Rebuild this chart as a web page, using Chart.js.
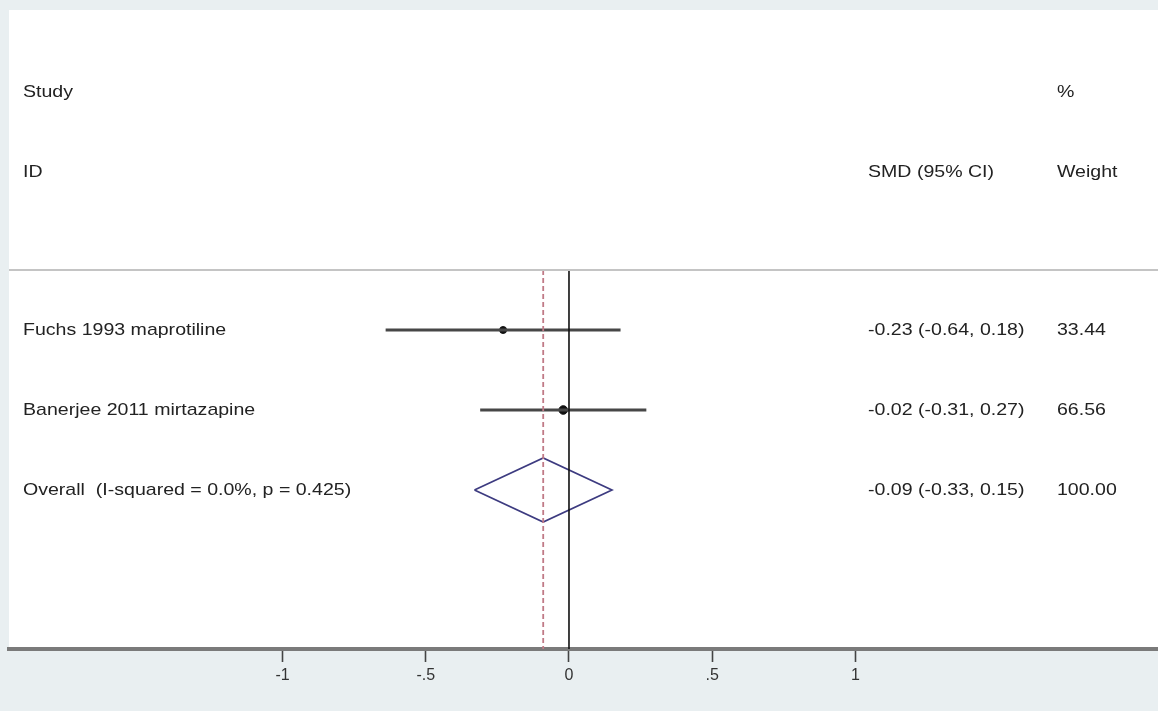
<!DOCTYPE html>
<html>
<head>
<meta charset="utf-8">
<title>Forest plot: SMD (95% CI)</title>
<script src="https://cdn.jsdelivr.net/npm/chart.js@4/dist/chart.umd.min.js"></script>
<style>
  html, body { margin: 0; padding: 0; background: #e9eff1; }
  canvas { display: block; }
</style>
</head>
<body>
<canvas id="forest" width="1158" height="711"></canvas>
<script>
// Study-level results
const studies = ["Fuchs 1993 maprotiline", "Banerjee 2011 mirtazapine"];
const smd = [-0.23, -0.02];
const ciLow = [-0.64, -0.31];
const ciHigh = [0.18, 0.27];
const weights = [33.44, 66.56];
const markerRadius = [3.5, 4.3];

// Pooled estimate
const overallLabel = "Overall  (I-squared = 0.0%, p = 0.425)";
const overallSmd = -0.09;
const overallCi = [-0.33, 0.15];
const overallWeight = 100.00;

// Column headers and axis ticks
const headerTop = ["Study", "", "%"];
const headerBottom = ["ID", "SMD (95% CI)", "Weight"];
const tickValues = [-1, -0.5, 0, 0.5, 1];
const tickLabels = ["-1", "-.5", "0", ".5", "1"];

// Row layout (in row units, top to bottom)
const headerRows = [1.03, 2.03];
const separatorRow = 3.25;
const studyRows = [4, 5];
const overallRow = 6;
const rowMax = 7.9875;
const xMin = -1.9546, xMax = 2.0559;

const fmt = v => v.toFixed(2);
const ciText = (e, lo, hi) => `${fmt(e)} (${fmt(lo)}, ${fmt(hi)})`;

const datasets = [];

// horizontal rule under the header
datasets.push({
  data: [{x: xMin, y: separatorRow}, {x: xMax, y: separatorRow}],
  borderColor: '#c4c4c4', borderWidth: 2, pointRadius: 0, showLine: true
});
// line of no effect
datasets.push({
  data: [{x: 0, y: separatorRow}, {x: 0, y: rowMax}],
  borderColor: '#111111', borderWidth: 1.6, pointRadius: 0, showLine: true
});
// pooled estimate reference line
datasets.push({
  data: [{x: overallSmd, y: separatorRow}, {x: overallSmd, y: rowMax}],
  borderColor: '#c07a86', borderWidth: 1.8, borderDash: [5, 3], pointRadius: 0, showLine: true
});
// confidence intervals
studies.forEach((s, i) => {
  datasets.push({
    data: [{x: ciLow[i], y: studyRows[i]}, {x: ciHigh[i], y: studyRows[i]}],
    borderColor: '#474747', borderWidth: 2.8, pointRadius: 0, showLine: true
  });
});
// point estimates
datasets.push({
  data: studies.map((s, i) => ({x: smd[i], y: studyRows[i]})),
  showLine: false,
  pointRadius: markerRadius,
  pointBackgroundColor: '#111111',
  pointBorderColor: '#111111',
  pointBorderWidth: 1
});
// pooled diamond
const dh = 0.4;
datasets.push({
  data: [
    {x: overallCi[0], y: overallRow},
    {x: overallSmd, y: overallRow - dh},
    {x: overallCi[1], y: overallRow},
    {x: overallSmd, y: overallRow + dh},
    {x: overallCi[0], y: overallRow}
  ],
  borderColor: '#3d3b80', borderWidth: 1.7, pointRadius: 0, showLine: true, fill: false, tension: 0
});

const FONT = '17px "Liberation Sans", Arial, sans-serif';
const STRETCH = 1.15;
const textColor = '#222222';

function stretchedText(ctx, txt, x, y) {
  ctx.save();
  ctx.translate(x, y);
  ctx.scale(STRETCH, 1);
  ctx.fillText(txt, 0, 0);
  ctx.restore();
}

const panelPlugin = {
  id: 'panel',
  beforeDraw(chart) {
    const {ctx, chartArea: a} = chart;
    ctx.save();
    ctx.fillStyle = '#ffffff';
    ctx.fillRect(a.left, a.top, a.right - a.left, a.bottom - a.top);
    ctx.restore();
  }
};

const tablePlugin = {
  id: 'table',
  afterDraw(chart) {
    const ctx = chart.ctx;
    const y = chart.scales.y;
    const colStudy = 23, colSmd = 868, colWeight = 1057;
    ctx.save();
    ctx.fillStyle = textColor;
    ctx.font = FONT;
    ctx.textBaseline = 'middle';
    ctx.textAlign = 'left';
    const cols = [colStudy, colSmd, colWeight];
    headerTop.forEach((t, i) => { if (t) stretchedText(ctx, t, cols[i], y.getPixelForValue(headerRows[0])); });
    headerBottom.forEach((t, i) => { if (t) stretchedText(ctx, t, cols[i], y.getPixelForValue(headerRows[1])); });
    studies.forEach((s, i) => {
      const py = y.getPixelForValue(studyRows[i]);
      stretchedText(ctx, s, colStudy, py);
      stretchedText(ctx, ciText(smd[i], ciLow[i], ciHigh[i]), colSmd, py);
      stretchedText(ctx, fmt(weights[i]), colWeight, py);
    });
    const po = y.getPixelForValue(overallRow);
    stretchedText(ctx, overallLabel, colStudy, po);
    stretchedText(ctx, ciText(overallSmd, overallCi[0], overallCi[1]), colSmd, po);
    stretchedText(ctx, fmt(overallWeight), colWeight, po);
    ctx.restore();
  }
};

new Chart(document.getElementById('forest'), {
  type: 'scatter',
  data: { datasets },
  options: {
    responsive: false,
    animation: false,
    devicePixelRatio: 1,
    layout: { autoPadding: false, padding: { left: 9, top: 10, right: 0, bottom: 0 } },
    plugins: { legend: { display: false }, tooltip: { enabled: false } },
    elements: { line: { tension: 0 } },
    scales: {
      x: {
        type: 'linear',
        min: xMin, max: xMax,
        position: 'bottom',
        afterBuildTicks(scale) { scale.ticks = tickValues.map(v => ({value: v})); },
        afterFit(scale) {
          scale.height = 62;
          scale.paddingLeft = 0;
          scale.paddingRight = 0;
        },
        border: { display: true, color: '#7a7a7a', width: 4 },
        grid: {
          drawOnChartArea: false, drawTicks: true,
          tickLength: 13, tickColor: '#444444', tickWidth: 1.6
        },
        ticks: {
          autoSkip: false, maxRotation: 0, padding: 4,
          color: '#333333',
          font: { family: '"Liberation Sans", Arial, sans-serif', size: 16 },
          callback(v) { const k = tickValues.indexOf(v); return k >= 0 ? tickLabels[k] : ''; }
        }
      },
      y: {
        type: 'linear', display: false, reverse: true,
        min: 0, max: rowMax
      }
    }
  },
  plugins: [panelPlugin, tablePlugin]
});
</script>
</body>
</html>
